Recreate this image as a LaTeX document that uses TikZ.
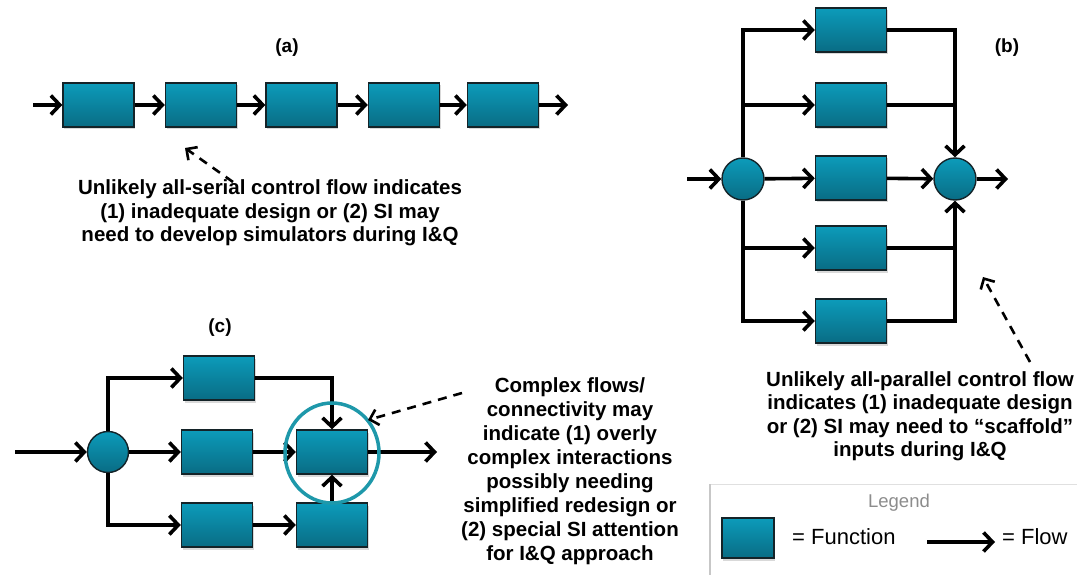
\documentclass[tikz,border=0pt]{standalone}
\usepackage{fontspec}
\setmainfont{Liberation Sans}
\usetikzlibrary{arrows.meta,shadows,shapes.geometric}
\definecolor{fntop}{RGB}{12,155,186}
\definecolor{fnbot}{RGB}{9,108,132}
\definecolor{fnline}{RGB}{20,35,40}
\definecolor{ringcol}{RGB}{30,152,170}
\tikzset{
  func/.style={rectangle,draw=fnline,line width=1.4pt,top color=fntop,bottom color=fnbot,
    minimum width=71pt,minimum height=44pt,inner sep=0pt,
    drop shadow={shadow xshift=1pt,shadow yshift=-2.5pt,opacity=.3}},
  junc/.style={circle,draw=fnline,line width=1.4pt,top color=fntop,bottom color=fnbot,
    minimum size=42pt,inner sep=0pt},
  flow/.style={line width=3.6pt,-{Straight Barb[length=9pt,width=19pt,line width=3.6pt]}},
  wire/.style={line width=3.6pt},
  hint/.style={line width=2.6pt,dash pattern=on 9pt off 7pt,
    -{Straight Barb[length=8pt,width=16pt,line width=2.6pt]}},
  note/.style={font=\bfseries\fontsize{20.5}{23.5}\selectfont,align=center,inner sep=0pt},
  tag/.style={font=\bfseries\fontsize{19}{21}\selectfont}
}
\begin{document}
\begin{tikzpicture}[x=1pt,y=-1pt]
    \useasboundingbox (0,0) rectangle (1077,575);

    % (a) serial
    \node[tag] (lbla) at (287,48) {(a)};
    \foreach \i/\x in {1/98.5,2/201,3/301.5,4/404,5/503}
      \node[func] (s\i) at (\x,105) {};
    \coordinate (sin) at (33,105);
    \coordinate (sout) at (568,105);
    \draw[flow] (sin) -- (s1);
    \foreach \a/\b in {s1/s2,s2/s3,s3/s4,s4/s5}
      \draw[flow] (\a) -- (\b);
    \draw[flow] (s5) -- (sout);
    \node[note] (notea) at (270,213) {Unlikely all-serial control flow indicates\\(1) inadequate design or (2) SI may\\need to develop simulators during I\&Q};
    \coordinate (hinta0) at (233,182);
    \coordinate (hinta) at (185,148);
    \draw[hint] (hinta0) -- (hinta);

    % (b) parallel
    \node[tag] (lblb) at (1007,48) {(b)};
    \foreach \i/\y in {1/30,2/105,3/178,4/248,5/321}
      \node[func] (p\i) at (851,\y) {};
    \node[junc] (jl) at (743,179) {};
    \node[junc] (jr) at (955,179) {};
    \coordinate (pin) at (687,179);
    \coordinate (pout) at (1008,179);
    \draw[flow] (pin) -- (jl);
    \draw[flow] (jl) -- (p3);
    \draw[flow] (p3) -- (jr);
    \draw[flow] (jr) -- (pout);
    \draw[flow] (jl.north) |- (p1);
    \draw[flow] (jl.north |- p2) -- (p2);
    \draw[flow] (jl.south) |- (p5);
    \draw[flow] (jl.south |- p4) -- (p4);
    \draw[flow] (p1) -| (jr.north);
    \draw[wire] (p2) -- (p2 -| jr);
    \draw[flow] (p5) -| (jr.south);
    \draw[wire] (p4) -- (p4 -| jr);
    \node[note] (noteb) at (920,416) {Unlikely all-parallel control flow\\indicates (1) inadequate design\\or (2) SI may need to “scaffold”\\inputs during I\&Q};
    \coordinate (hintb0) at (1030,362);
    \coordinate (hintb) at (983,277);
    \draw[hint] (hintb0) -- (hintb);

    % (c) complex
    \node[tag] (lblc) at (220,328) {(c)};
    \node[junc,minimum size=41pt] (jc) at (108,452) {};
    \node[func] (c1) at (219,378) {};
    \node[func] (c2) at (217,452) {};
    \node[func] (c3) at (332,452) {};
    \node[func] (c4) at (217,525) {};
    \node[func] (c5) at (332,525) {};
    \coordinate (cin) at (15,452);
    \coordinate (cout) at (437,452);
    \draw[flow] (cin) -- (jc);
    \draw[flow] (jc) -- (c2);
    \draw[flow] (c2) -- (c3);
    \draw[flow] (c3) -- (cout);
    \draw[flow] (jc.north) |- (c1);
    \draw[flow] (c1) -| (c3.north);
    \draw[flow] (jc.south) |- (c4);
    \draw[flow] (c4) -- (c5);
    \draw[flow] (c5) -- (c3);
    \node[ellipse,draw=ringcol,line width=3.5pt,minimum width=94pt,minimum height=100pt] (ring) at (332,453) {};
    \node[note,font=\bfseries\fontsize{20.5}{24}\selectfont] (notec) at (570,471) {Complex flows/\\connectivity may\\indicate (1) overly\\complex interactions\\possibly needing\\simplified redesign or\\(2) special SI attention\\for I\&Q approach};
    \coordinate (hintc0) at (462,393);
    \coordinate (hintc) at (368,420);
    \draw[hint] (hintc0) -- (hintc);

    % legend
    \draw[black!12,line width=1pt] (710,484) -- (1077,484);
    \draw[black!22,line width=1.5pt] (710,484) -- (710,575);
    \node[text=black!45,font=\fontsize{18.5}{20}\selectfont] (leg) at (899,503) {Legend};
    \node[func,minimum width=52pt,minimum height=40pt] (legf) at (748,538) {};
    \node[anchor=west,inner sep=0pt,font=\fontsize{22}{24}\selectfont] (legft) at (792,537) {= Function};
    \coordinate (lega) at (927,542);
    \coordinate (legb) at (995,542);
    \draw[flow] (lega) -- (legb);
    \node[anchor=west,inner sep=0pt,font=\fontsize{22}{24}\selectfont] (legfl) at (1002,537) {= Flow};
\end{tikzpicture}
\end{document}
